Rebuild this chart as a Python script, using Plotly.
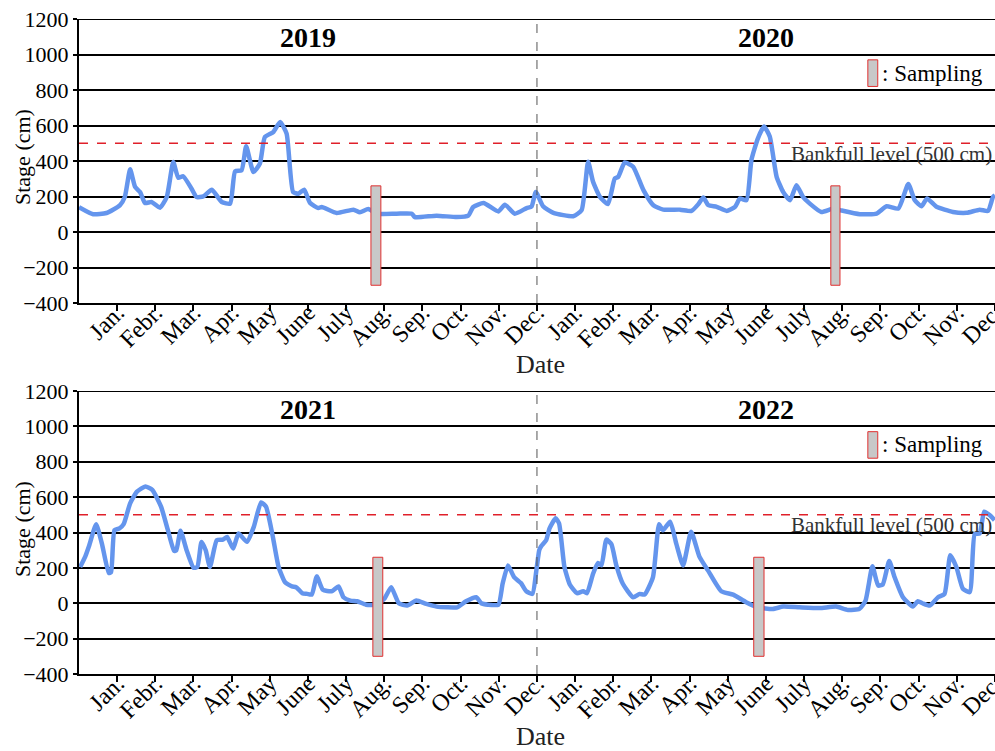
import plotly.graph_objects as go

# ---------------- data ----------------
month_labels = ["Jan.", "Febr.", "Mar.", "Apr.", "May", "June", "July",
                "Aug.", "Sep.", "Oct.", "Nov.", "Dec."]
years_top = ["2019", "2020"]
years_bottom = ["2021", "2022"]

# months elapsed since 1 Jan of the first year of each panel
top_month = [0.0, 0.37, 0.72, 1.07, 1.2, 1.34, 1.47, 1.6, 1.73, 1.9, 2.12, 2.3, 2.47, 2.6, 2.73,
             2.95, 3.08, 3.26, 3.48, 3.74, 3.96, 4.09, 4.26, 4.38, 4.57, 4.74, 4.87, 5.09, 5.27,
             5.44, 5.61, 5.75, 5.9, 6.05, 6.27, 6.36, 6.75, 7.19, 7.36, 7.58, 7.8, 8.32, 8.72,
             8.8, 9.37, 9.9, 10.2, 10.33, 10.6, 10.99, 11.16, 11.42, 11.73, 11.86, 11.97, 12.16,
             12.43, 12.95, 13.17, 13.34, 13.47, 13.65, 13.86, 14.04, 14.13, 14.3, 14.52, 14.79,
             15.05, 15.31, 15.75, 16.05, 16.23, 16.36, 16.49, 16.71, 16.97, 17.19, 17.32, 17.49,
             17.62, 17.79, 17.95, 18.1, 18.28, 18.45, 18.63, 18.8, 18.97, 19.15, 19.45, 19.76,
             19.94, 20.46, 20.9, 21.16, 21.47, 21.73, 21.9, 22.08, 22.22, 22.47, 22.9, 23.26,
             23.6, 23.82, 23.95, 24.0]
top_stage = [140, 100, 107, 150, 197, 353, 254, 225, 163, 169, 137, 197, 394, 306, 314,
             244, 197, 201, 238, 169, 160, 342, 347, 483, 338, 385, 535, 563, 620,
             554, 225, 216, 238, 165, 135, 141, 107, 126, 111, 129, 103, 103, 103,
             84, 92, 84, 92, 141, 163, 116, 154, 103, 135, 144, 226, 145,
             108, 89, 123, 396, 283, 198, 157, 302, 311, 392, 368, 236,
             151, 126, 126, 119, 157, 194, 151, 142, 119, 142, 189, 179,
             406, 528, 594, 538, 311, 226, 179, 264, 198, 160, 113, 132,
             123, 100, 104, 145, 132, 270, 179, 145, 189, 142, 113, 108,
             126, 119, 198, 205]

bottom_month = [0.03, 0.16, 0.27, 0.45, 0.6, 0.78, 0.84, 0.93, 1.06, 1.17, 1.34, 1.52, 1.74,
                1.92, 2.15, 2.33, 2.49, 2.55, 2.66, 2.82, 3.0, 3.1, 3.21, 3.32, 3.43, 3.61,
                3.77, 3.88, 4.04, 4.18, 4.4, 4.58, 4.77, 4.9, 5.08, 5.23, 5.4, 5.58, 5.69,
                5.85, 5.98, 6.1, 6.23, 6.39, 6.62, 6.8, 6.93, 7.11, 7.29, 7.52, 7.79, 8.0,
                8.18, 8.38, 8.6, 8.84, 9.1, 9.37, 9.64, 9.91, 10.14, 10.41, 10.54, 10.72,
                10.99, 11.1, 11.24, 11.4, 11.58, 11.72, 11.88, 11.99, 12.06, 12.11, 12.24,
                12.33, 12.49, 12.58, 12.72, 12.86, 13.05, 13.21, 13.31, 13.47, 13.6, 13.69,
                13.82, 13.95, 14.08, 14.25, 14.52, 14.69, 14.82, 15.04, 15.2, 15.3, 15.49,
                15.65, 15.83, 16.04, 16.26, 16.48, 16.83, 17.14, 17.48, 17.79, 18.18, 18.45,
                18.88, 19.41, 19.84, 20.15, 20.45, 20.61, 20.79, 20.94, 21.06, 21.23, 21.37,
                21.59, 21.85, 21.98, 22.1, 22.29, 22.51, 22.68, 22.83, 22.99, 23.16, 23.34,
                23.47, 23.6, 23.72, 23.86, 23.99]
bottom_stage = [205, 262, 328, 447, 337, 171, 176, 413, 423, 447, 565, 631, 660,
                641, 546, 413, 296, 300, 410, 300, 201, 205, 347, 300, 205, 356,
                360, 375, 309, 394, 347, 432, 570, 546, 375, 205, 119, 95, 91,
                57, 53, 49, 152, 76, 68, 95, 34, 15, 11, -8, -8, 25,
                91, 0, -13, 15, -4, -19, -23, -23, 11, 34, 0, -8,
                -8, 110, 214, 148, 114, 68, 53, 195, 300, 322, 356,
                423, 480, 451, 205, 106, 57, 68, 57, 167, 228, 214,
                360, 334, 214, 110, 34, 53, 49, 148, 447, 413, 461,
                337, 214, 404, 262, 186, 68, 49, 6, -23, -32, -19,
                -23, -27, -19, -38, -32, 15, 209, 100, 106, 239, 148,
                34, -19, 11, 0, -13, 34, 53, 271, 205, 82, 63,
                391, 394, 518, 499, 470]

bankfull_level = 500
sampling_top = [(7.65, 7.91), (19.70, 19.94)]
sampling_bottom = [(7.70, 7.96), (17.68, 17.95)]
sampling_range = (-300, 260)

# ---------------- figure ----------------
FONT = "Liberation Serif, Times New Roman, serif"
LINE_BLUE = "#6495ED"
W, H = 995, 751

def px_x(x):
    return x / W

def px_y(y):
    return 1 - y / H

fig = go.Figure()
fig.add_trace(go.Scatter(x=top_month, y=top_stage, mode="lines",
                         line=dict(color=LINE_BLUE, width=4.5, shape="spline", smoothing=0.5),
                         xaxis="x", yaxis="y", showlegend=False, hoverinfo="skip"))
fig.add_trace(go.Scatter(x=bottom_month, y=bottom_stage, mode="lines",
                         line=dict(color=LINE_BLUE, width=4.5, shape="spline", smoothing=0.5),
                         xaxis="x2", yaxis="y2", showlegend=False, hoverinfo="skip"))

x_dom = [px_x(79), px_x(995)]
top_dom = [px_y(303), px_y(19)]
bot_dom = [px_y(674), px_y(391)]

tickvals = list(range(1, 25))
ticktext = month_labels * 2

def xaxis_cfg(anchor):
    return dict(domain=x_dom, range=[0, 24.002], anchor=anchor, tickvals=tickvals,
                ticktext=ticktext, tickangle=-45, ticks="outside", ticklen=6, tickwidth=2,
                tickcolor="black", showline=True, linecolor="black", linewidth=2,
                showgrid=False, zeroline=False, automargin=False,
                ticklabelstandoff=-22, ticklabeloverflow="allow",
                tickfont=dict(family=FONT, size=24, color="black"))

def yaxis_cfg(domain, anchor):
    return dict(domain=domain, range=[-400, 1200], anchor=anchor, dtick=200,
                tick0=0, ticks="outside", ticklen=4, tickwidth=2, tickcolor="black",
                showline=True, linecolor="black", linewidth=2, automargin=False,
                showgrid=True, gridcolor="black", gridwidth=2, zeroline=False,
                ticklabeloverflow="allow",
                tickfont=dict(family=FONT, size=22, color="black"))

fig.update_layout(
    width=W, height=H, margin=dict(l=0, r=0, t=0, b=0, autoexpand=False),
    paper_bgcolor="white", plot_bgcolor="white",
    xaxis=xaxis_cfg("y"), yaxis=yaxis_cfg(top_dom, "x"),
    xaxis2=xaxis_cfg("y2"), yaxis2=yaxis_cfg(bot_dom, "x2"),
    font=dict(family=FONT, color="black"),
)

shapes = []
annotations = []
for xr, yr, samp, years in (("x", "y", sampling_top, years_top),
                            ("x2", "y2", sampling_bottom, years_bottom)):
    # top border
    shapes.append(dict(type="line", xref=xr, yref=yr, x0=0, x1=24.002, y0=1200, y1=1200,
                       line=dict(color="black", width=2)))
    # year separator
    shapes.append(dict(type="line", xref=xr, yref=yr, x0=12, x1=12, y0=-400, y1=1200,
                       line=dict(color="#555555", width=1, dash="dash")))
    # bankfull level
    shapes.append(dict(type="line", xref=xr, yref=yr, x0=0, x1=24.002,
                       y0=bankfull_level, y1=bankfull_level,
                       line=dict(color="#e0202a", width=1.5, dash="dash")))
    # sampling windows
    for s0, s1 in samp:
        shapes.append(dict(type="rect", xref=xr, yref=yr, x0=s0, x1=s1,
                           y0=sampling_range[0], y1=sampling_range[1],
                           fillcolor="#c8c8c8", line=dict(color="#e03030", width=1)))
    # legend rect
    shapes.append(dict(type="rect", xref=xr, yref=yr, x0=20.67, x1=20.93, y0=820, y1=970,
                       fillcolor="#c8c8c8", line=dict(color="#e03030", width=1)))
    annotations.append(dict(xref=xr, yref=yr, x=20.98, y=895, xanchor="left",
                            yanchor="middle", text=": Sampling", showarrow=False,
                            font=dict(family=FONT, size=23, color="black")))
    annotations.append(dict(xref=xr, yref=yr, x=18.6, y=440, xanchor="left",
                            yanchor="middle", text="Bankfull level (500 cm)",
                            showarrow=False,
                            font=dict(family=FONT, size=21, color="#333333")))
    for i, yr_label in enumerate(years):
        annotations.append(dict(xref=xr, yref=yr, x=6 + 12 * i, y=1093,
                                text="<b>%s</b>" % yr_label, showarrow=False,
                                xanchor="center", yanchor="middle",
                                font=dict(family=FONT, size=28, color="black")))

# axis titles
for ycen_date, ycen_stage in ((364, 157), (736, 529)):
    annotations.append(dict(xref="paper", yref="paper", x=px_x(540), y=px_y(ycen_date),
                            text="Date", showarrow=False, xanchor="center",
                            yanchor="middle", font=dict(family=FONT, size=26, color="#222222")))
    annotations.append(dict(xref="paper", yref="paper", x=px_x(22), y=px_y(ycen_stage),
                            text="Stage (cm)", showarrow=False, textangle=-90,
                            xanchor="center", yanchor="middle",
                            font=dict(family=FONT, size=22, color="black")))

fig.update_layout(shapes=shapes, annotations=annotations)
fig.write_html(
    "out.html",
    config={"displayModeBar": False},
    post_script="document.body.style.margin='0';document.body.style.overflow='hidden';",
)
